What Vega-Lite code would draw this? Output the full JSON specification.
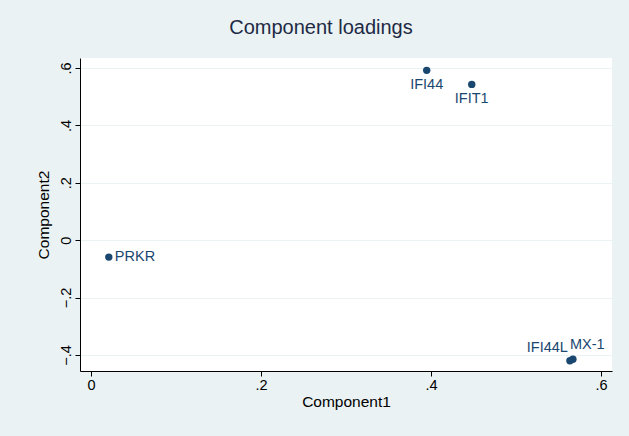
{
  "$schema": "https://vega.github.io/schema/vega-lite/v6.json",
  "autosize": {"type": "none"},
  "padding": {"left": 80, "top": 58, "right": 17, "bottom": 65},
  "width": 532,
  "height": 313,
  "background": "#EAF2F3",
  "title": {"text": "Component loadings", "fontSize": 20, "font": "Liberation Sans", "fontWeight": "normal", "color": "#1e2a45", "anchor": "middle", "dx": -25, "offset": 20},
  "config": {
    "view": {"fill": "white", "stroke": null},
    "font": "Liberation Sans"
  },
  "data": {"values": [
    {"name": "PRKR", "c1": 0.021, "c2": -0.059},
    {"name": "IFI44", "c1": 0.395, "c2": 0.592},
    {"name": "IFIT1", "c1": 0.448, "c2": 0.543},
    {"name": "IFI44L", "c1": 0.5635, "c2": -0.42},
    {"name": "MX-1", "c1": 0.567, "c2": -0.415}
  ]},
  "encoding": {
    "x": {"field": "c1", "type": "quantitative", "title": "Component1",
      "scale": {"domain": [-0.0129, 0.613], "nice": false, "zero": false},
      "axis": {"values": [0, 0.2, 0.4, 0.6], "grid": false, "domainColor": "black", "tickColor": "black", "tickSize": 5,
        "labelExpr": "datum.value == 0 ? '0' : replace(format(datum.value, '.1f'), '0.', '.')",
        "labelFontSize": 14.5, "labelColor": "black", "labelPadding": 2, "titleFontSize": 15.5, "titleFontWeight": "normal", "titleColor": "black", "titlePadding": 3}},
    "y": {"field": "c2", "type": "quantitative", "title": "Component2",
      "scale": {"domain": [-0.456, 0.635], "nice": false, "zero": false},
      "axis": {"values": [-0.4, -0.2, 0, 0.2, 0.4, 0.6], "grid": true, "gridColor": "#EAF2F3", "gridWidth": 1.2, "domainColor": "black", "tickColor": "black", "tickSize": 5, "labelAngle": -90,
        "labelExpr": "datum.value == 0 ? '0' : replace(format(datum.value, '.1f'), '0.', '.')",
        "labelFontSize": 14.5, "labelColor": "black", "labelPadding": 2, "titleFontSize": 15.5, "titleFontWeight": "normal", "titleColor": "black", "titlePadding": 7}}
  },
  "layer": [
    {"mark": {"type": "point", "filled": true, "size": 55, "color": "#1a476f", "opacity": 1}},
    {"transform": [{"filter": "datum.name == 'PRKR'"}],
     "mark": {"type": "text", "align": "left", "baseline": "middle", "dx": 6, "fontSize": 14.5, "color": "#1a476f"},
     "encoding": {"text": {"field": "name"}}},
    {"transform": [{"filter": "datum.name == 'IFI44' || datum.name == 'IFIT1'"}],
     "mark": {"type": "text", "align": "center", "baseline": "middle", "dy": 15, "fontSize": 14.5, "color": "#1a476f"},
     "encoding": {"text": {"field": "name"}}},
    {"transform": [{"filter": "datum.name == 'IFI44L'"}],
     "mark": {"type": "text", "align": "right", "baseline": "middle", "dx": -2, "dy": -13, "fontSize": 14.5, "color": "#1a476f"},
     "encoding": {"text": {"field": "name"}}},
    {"transform": [{"filter": "datum.name == 'MX-1'"}],
     "mark": {"type": "text", "align": "left", "baseline": "middle", "dx": -3, "dy": -14, "fontSize": 14.5, "color": "#1a476f"},
     "encoding": {"text": {"field": "name"}}}
  ]
}
